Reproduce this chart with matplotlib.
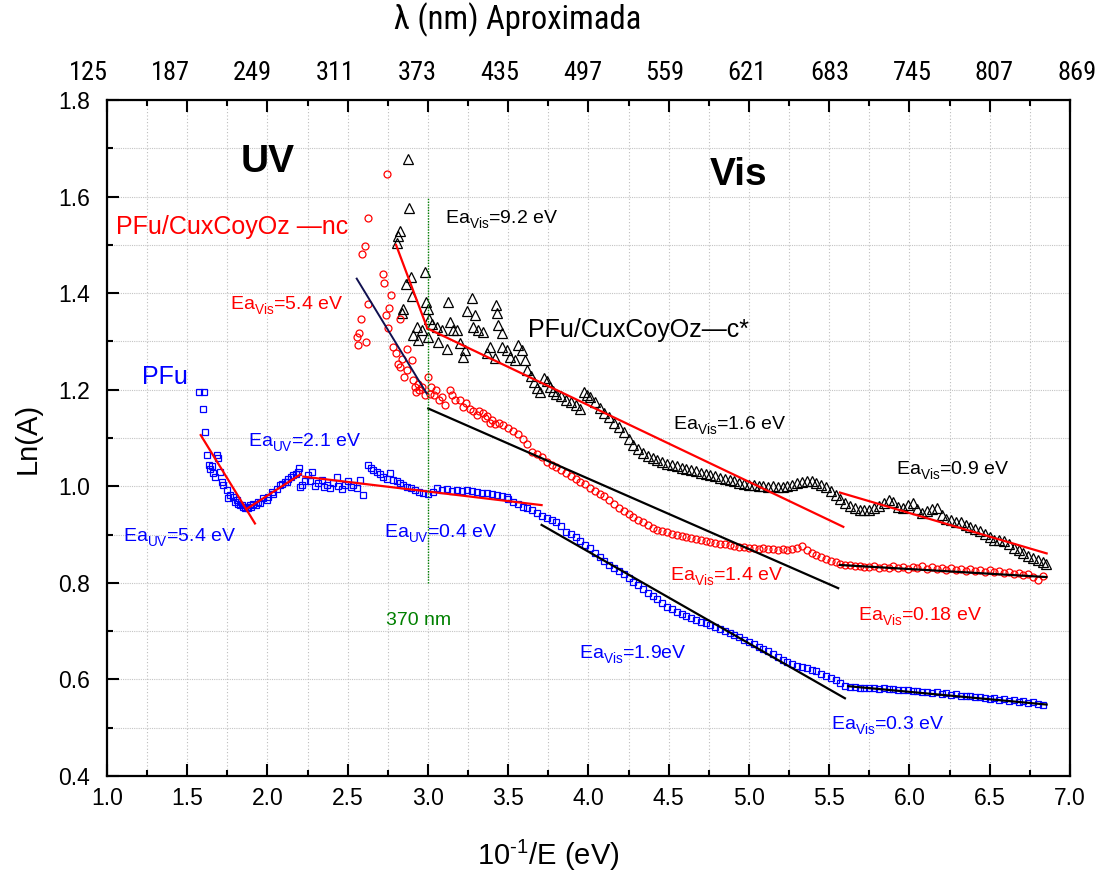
import matplotlib
matplotlib.use("Agg")
import matplotlib.pyplot as plt
from matplotlib import font_manager as fm
from matplotlib.ticker import MultipleLocator

plt.rcParams['font.family'] = ['Liberation Sans', 'DejaVu Sans']
plt.rcParams['mathtext.fontset'] = 'custom'
plt.rcParams['mathtext.rm'] = 'Liberation Sans'
plt.rcParams['mathtext.it'] = 'Liberation Sans:italic'
plt.rcParams['mathtext.bf'] = 'Liberation Sans:bold'
plt.rcParams['mathtext.default'] = 'regular'

# deeper subscripts for the Ea labels
try:
    from matplotlib import _mathtext
    _mathtext.FontConstantsBase.sub1 = 0.55
    _mathtext.FontConstantsBase.sub2 = 0.7
except Exception:
    pass

# a narrow sans for the wavelength axis, if one is installed
narrow_family = 'Liberation Sans'
narrow_stretch = 'normal'
for f in fm.fontManager.ttflist:
    if 'Narrow' in f.name or 'Condensed' in f.name:
        narrow_family, narrow_stretch = f.name, f.stretch
        if 'Liberation' in f.name:
            break

# ---------------- PFu (blue squares) ----------------
pfu_x = [1.575, 1.604, 1.596, 1.610, 1.621, 1.637, 1.652, 1.683, 1.694, 1.642,
         1.662, 1.673, 1.704, 1.714, 1.725, 1.745, 1.766, 1.756, 1.787, 1.798,
         1.808, 1.818, 1.829, 1.84, 1.85, 1.86, 1.87, 1.88, 1.891, 1.90,
         1.912, 1.93, 1.943, 1.955, 1.974, 1.995, 2.005, 2.026, 2.036, 2.057,
         2.078, 2.09, 2.109, 2.12, 2.13, 2.145, 2.161, 2.175, 2.192, 2.198,
         2.2025, 2.213, 2.234, 2.255, 2.275, 2.265, 2.296, 2.317, 2.338, 2.352,
         2.369, 2.39, 2.41, 2.431, 2.441, 2.462, 2.483, 2.504, 2.518, 2.535,
         2.556, 2.576, 2.597, 2.628, 2.643, 2.66, 2.68, 2.701, 2.722, 2.743,
         2.764, 2.78, 2.805, 2.826, 2.847, 2.867, 2.892, 2.919, 2.946, 2.971,
         3.002, 3.029, 3.054, 3.085, 3.116, 3.147, 3.179, 3.21, 3.241, 3.272,
         3.303, 3.334, 3.366, 3.397, 3.428, 3.459, 3.49,
         3.50, 3.53, 3.56, 3.59, 3.62, 3.65, 3.68, 3.71, 3.74, 3.77,
         3.80, 3.83, 3.86, 3.89, 3.92, 3.95, 3.98, 4.01, 4.04, 4.07,
         4.10, 4.13, 4.16, 4.19, 4.22, 4.25, 4.28, 4.31, 4.34, 4.37,
         4.40, 4.43, 4.46, 4.49, 4.52, 4.55, 4.58, 4.61, 4.64, 4.67,
         4.70, 4.73, 4.76, 4.79, 4.82, 4.85, 4.88, 4.91, 4.94, 4.97,
         5.00, 5.03, 5.06, 5.09, 5.12, 5.15, 5.18, 5.21, 5.24, 5.27,
         5.30, 5.33, 5.36, 5.39, 5.42, 5.45, 5.48, 5.51, 5.54, 5.57,
         5.60, 5.63, 5.66, 5.69, 5.72, 5.75, 5.78, 5.81, 5.84, 5.87,
         5.90, 5.93, 5.96, 5.99, 6.02, 6.05, 6.08, 6.11, 6.14, 6.17,
         6.20, 6.23, 6.26, 6.29, 6.32, 6.35, 6.38, 6.41, 6.44, 6.47,
         6.50, 6.53, 6.56, 6.59, 6.62, 6.65, 6.68, 6.71, 6.74, 6.77,
         6.80, 6.83]
pfu_y = [1.195, 1.195, 1.161, 1.112, 1.065, 1.044, 1.042, 1.065, 1.058, 1.035,
         1.028, 1.019, 1.030, 1.009, 1.003, 0.992, 0.982, 0.975, 0.978, 0.968,
         0.972, 0.964, 0.961, 0.962, 0.958, 0.955, 0.958, 0.954, 0.961, 0.958,
         0.964, 0.962, 0.968, 0.966, 0.975, 0.972, 0.978, 0.989, 0.985, 0.995,
         1.003, 1.004, 1.009, 1.009, 1.016, 1.020, 1.023, 1.026, 1.030, 1.038,
         0.998, 1.003, 1.010, 1.024, 1.029, 1.010, 1.000, 1.006, 1.013, 0.998,
         1.003, 0.996, 1.006, 1.019, 1.000, 0.994, 1.003, 1.010, 0.998, 1.003,
         0.996, 1.013, 0.982, 1.044, 1.037, 1.034, 1.030, 1.025, 1.020, 1.016,
         1.027, 1.013, 1.010, 1.006, 1.003, 0.998, 0.996, 0.992, 0.989, 0.987,
         0.983, 0.989, 0.996, 0.992, 0.994, 0.991, 0.992, 0.991, 0.992, 0.990,
         0.989, 0.987, 0.986, 0.985, 0.982, 0.980, 0.977,
         0.973, 0.968, 0.963, 0.958, 0.955, 0.951, 0.944, 0.938, 0.935, 0.931,
         0.926, 0.918, 0.905, 0.902, 0.895, 0.886, 0.879, 0.872, 0.862, 0.854,
         0.846, 0.838, 0.831, 0.825, 0.818, 0.810, 0.801, 0.795, 0.788, 0.780,
         0.773, 0.766, 0.758, 0.751, 0.746, 0.740, 0.736, 0.731, 0.727, 0.723,
         0.719, 0.716, 0.712, 0.708, 0.705, 0.701, 0.697, 0.693, 0.688, 0.682,
         0.677, 0.673, 0.668, 0.664, 0.659, 0.653, 0.646, 0.640, 0.636, 0.632,
         0.628, 0.625, 0.623, 0.620, 0.617, 0.612, 0.608, 0.603, 0.598, 0.592,
         0.587, 0.585, 0.584, 0.583, 0.583, 0.582, 0.583, 0.581, 0.582, 0.580,
         0.581, 0.579, 0.578, 0.579, 0.576, 0.577, 0.574, 0.575, 0.572, 0.573,
         0.570, 0.571, 0.568, 0.569, 0.566, 0.565, 0.566, 0.563, 0.564, 0.561,
         0.560, 0.562, 0.558, 0.559, 0.556, 0.557, 0.554, 0.555, 0.552, 0.553,
         0.550, 0.548]

# ---------------- PFu/CuxCoyOz-nc (red circles) ----------------
nc_x = [2.743, 2.628, 2.607, 2.591, 2.717, 2.727, 2.769, 2.624, 2.755, 2.736,
        2.583, 2.826, 2.751, 2.572, 2.558, 2.614, 2.566, 2.784, 2.869, 2.798,
        2.838, 2.898, 2.811, 2.826, 2.852, 2.905, 2.919, 2.946, 2.981, 2.925,
        2.94, 2.96, 2.87, 3.002, 3.02, 3.04, 3.07, 3.106, 3.012, 3.05,
        3.09, 3.137, 3.15, 3.17, 3.20, 3.22, 3.24, 3.26, 3.28, 3.303,
        3.32, 3.345, 3.355, 3.37, 3.386, 3.40, 3.42,
        3.44, 3.47, 3.50, 3.53, 3.56, 3.59, 3.62, 3.65, 3.68, 3.71,
        3.74, 3.77, 3.80, 3.83, 3.86, 3.89, 3.92, 3.95, 3.98, 4.01,
        4.04, 4.07, 4.10, 4.13, 4.16, 4.19, 4.22, 4.25, 4.28, 4.31,
        4.34, 4.37, 4.40, 4.43, 4.46, 4.49, 4.52, 4.55, 4.58, 4.61,
        4.64, 4.67, 4.70, 4.73, 4.76, 4.79, 4.82, 4.85, 4.88, 4.91,
        4.94, 4.97, 5.00, 5.03, 5.06, 5.09, 5.12, 5.15, 5.18, 5.21,
        5.24, 5.27, 5.30, 5.33, 5.36, 5.39, 5.42, 5.45, 5.48, 5.51,
        5.54, 5.57, 5.60, 5.63, 5.66, 5.69, 5.72, 5.75, 5.78, 5.81,
        5.84, 5.87, 5.90, 5.93, 5.96, 5.99, 6.02, 6.05, 6.08, 6.11,
        6.14, 6.17, 6.20, 6.23, 6.26, 6.29, 6.32, 6.35, 6.38, 6.41,
        6.44, 6.47, 6.50, 6.53, 6.56, 6.59, 6.62, 6.65, 6.68, 6.71,
        6.74, 6.77, 6.80, 6.83]
nc_y = [1.646, 1.556, 1.497, 1.481, 1.439, 1.420, 1.396, 1.378, 1.370, 1.355,
        1.346, 1.346, 1.328, 1.317, 1.309, 1.299, 1.292, 1.289, 1.285, 1.275,
        1.263, 1.261, 1.254, 1.246, 1.227, 1.220, 1.206, 1.199, 1.189, 1.196,
        1.212, 1.205, 1.240, 1.227, 1.206, 1.189, 1.179, 1.168, 1.192, 1.200,
        1.185, 1.199, 1.190, 1.178, 1.179, 1.165, 1.172, 1.160, 1.155, 1.148,
        1.156, 1.151, 1.141, 1.145, 1.131, 1.138, 1.128,
        1.132, 1.126, 1.121, 1.115, 1.108, 1.097, 1.088, 1.072, 1.066, 1.060,
        1.051, 1.045, 1.040, 1.033, 1.027, 1.021, 1.015, 1.009, 1.004, 0.996,
        0.990, 0.985, 0.979, 0.972, 0.964, 0.956, 0.948, 0.942, 0.937, 0.931,
        0.925, 0.919, 0.914, 0.910, 0.907, 0.905, 0.902, 0.899, 0.897, 0.895,
        0.892, 0.890, 0.888, 0.886, 0.884, 0.883, 0.881, 0.880, 0.878, 0.877,
        0.875, 0.874, 0.873, 0.872, 0.871, 0.872, 0.870, 0.871, 0.869, 0.870,
        0.869, 0.870, 0.873, 0.876, 0.868, 0.862, 0.857, 0.853, 0.850, 0.846,
        0.843, 0.840, 0.838, 0.836, 0.834, 0.835, 0.833, 0.832, 0.834, 0.831,
        0.833, 0.830, 0.834, 0.831, 0.833, 0.829, 0.832, 0.830, 0.834, 0.829,
        0.832, 0.828, 0.831, 0.827, 0.830, 0.826, 0.829, 0.825, 0.828, 0.824,
        0.827, 0.823, 0.826, 0.822, 0.825, 0.820, 0.823, 0.818, 0.821, 0.816,
        0.819, 0.812, 0.806, 0.814]

# ---------------- PFu/CuxCoyOz-c* (black triangles) ----------------
c_x = [2.877, 2.884, 2.826, 2.815, 2.805, 2.981, 2.892, 2.861, 2.898, 2.988,
       2.846, 2.836, 3.002, 3.006, 2.929, 2.96, 2.908, 2.94, 3.002, 3.023,
       3.054, 3.064, 3.085, 3.116, 3.127, 3.137, 3.158, 3.179, 3.20, 3.22,
       3.23, 3.272, 3.241, 3.293, 3.282, 3.313, 3.345, 3.421, 3.428, 3.438,
       3.459, 3.386, 3.365, 3.417, 3.459, 3.49, 3.511, 3.542, 3.563, 3.584,
       3.604,
       3.62, 3.64, 3.66, 3.68, 3.70, 3.72, 3.74, 3.76, 3.78, 3.80,
       3.83, 3.86, 3.89, 3.92, 3.95, 3.97, 3.99, 4.01, 4.04, 4.07,
       4.10, 4.13, 4.16, 4.19, 4.22, 4.25, 4.28, 4.31, 4.34, 4.37,
       4.40, 4.43, 4.46, 4.49, 4.52, 4.55, 4.58, 4.61, 4.64, 4.67,
       4.70, 4.73, 4.76, 4.79, 4.82, 4.85, 4.88, 4.91, 4.94, 4.97,
       5.00, 5.03, 5.06, 5.09, 5.12, 5.15, 5.18, 5.21, 5.24, 5.27,
       5.30, 5.33, 5.36, 5.39, 5.42, 5.45, 5.48, 5.51, 5.54, 5.57,
       5.60, 5.63, 5.66, 5.69, 5.72, 5.75, 5.78, 5.81, 5.84, 5.87,
       5.90, 5.93, 5.96, 5.99, 6.02, 6.05, 6.08, 6.11, 6.14, 6.17,
       6.20, 6.23, 6.26, 6.29, 6.32, 6.35, 6.38, 6.41, 6.44, 6.47,
       6.50, 6.53, 6.56, 6.59, 6.62, 6.65, 6.68, 6.71, 6.74, 6.77,
       6.80, 6.83, 6.85]
c_y = [1.677, 1.576, 1.529, 1.518, 1.503, 1.444, 1.434, 1.419, 1.393, 1.382,
       1.368, 1.358, 1.367, 1.347, 1.330, 1.324, 1.313, 1.303, 1.310, 1.337,
       1.330, 1.299, 1.324, 1.285, 1.382, 1.340, 1.324, 1.324, 1.296, 1.268,
       1.282, 1.389, 1.362, 1.355, 1.330, 1.324, 1.320, 1.375, 1.359, 1.334,
       1.318, 1.289, 1.275, 1.265, 1.289, 1.282, 1.268, 1.261, 1.292, 1.282,
       1.261,
       1.240, 1.228, 1.215, 1.203, 1.196, 1.225, 1.218, 1.205, 1.198, 1.192,
       1.186, 1.178, 1.174, 1.168, 1.161, 1.196, 1.190, 1.185, 1.175, 1.163,
       1.152, 1.144, 1.132, 1.122, 1.112, 1.098, 1.085, 1.077, 1.069, 1.063,
       1.058, 1.054, 1.050, 1.046, 1.044, 1.041, 1.038, 1.036, 1.033, 1.031,
       1.028, 1.026, 1.023, 1.021, 1.018, 1.016, 1.013, 1.010, 1.007, 1.005,
       1.003, 1.002, 1.000, 1.001, 0.999, 1.000, 0.998, 0.999, 1.000, 1.003,
       1.006, 1.009, 1.011, 1.010, 1.006, 1.002, 0.998, 0.990, 0.982, 0.974,
       0.966, 0.960, 0.955, 0.951, 0.950, 0.951, 0.955, 0.960, 0.966, 0.972,
       0.968, 0.958, 0.956, 0.962, 0.966, 0.952, 0.945, 0.948, 0.953, 0.955,
       0.940, 0.933, 0.930, 0.927, 0.925, 0.920, 0.915, 0.912, 0.908, 0.902,
       0.895, 0.889, 0.888, 0.886, 0.880, 0.873, 0.868, 0.862, 0.856, 0.852,
       0.848, 0.844, 0.840]

# ---------------- linear fits (start/end of each segment) ----------------
fit_red_x = [(1.584, 1.922), (1.870, 2.207), (2.223, 3.708),
             (2.801, 2.996), (2.996, 5.588), (5.567, 6.855)]
fit_red_y = [(1.106, 0.923), (0.953, 1.025), (1.020, 0.961),
             (1.500, 1.327), (1.327, 0.916), (0.987, 0.861)]
fit_black_x = [(3.002, 5.556), (5.567, 6.854), (3.708, 5.598), (5.619, 6.855)]
fit_black_y = [(1.161, 0.789), (0.837, 0.812), (0.920, 0.561), (0.586, 0.548)]
fit_navy_x = (2.556, 2.992)
fit_navy_y = (1.430, 1.192)

# 370 nm marker
lambda_line_x = 3.0
lambda_line_y = (0.80, 1.60)

x_ticks = [1.0, 1.5, 2.0, 2.5, 3.0, 3.5, 4.0, 4.5, 5.0, 5.5, 6.0, 6.5, 7.0]
y_ticks = [0.4, 0.6, 0.8, 1.0, 1.2, 1.4, 1.6, 1.8]
top_labels = ['125', '187', '249', '311', '373', '435', '497', '559',
              '621', '683', '745', '807', '869']

fig = plt.figure(figsize=(11.03, 8.73), dpi=100)
ax = fig.add_axes([0.097, 0.1111, 0.873, 0.7744])

ax.set_xlim(1.0, 7.0)
ax.set_ylim(0.4, 1.8)
ax.set_xticks(x_ticks)
ax.set_yticks(y_ticks)
ax.set_xticklabels([f'{v:.1f}' for v in x_ticks])
ax.set_yticklabels([f'{v:.1f}' for v in y_ticks])
ax.xaxis.set_minor_locator(MultipleLocator(0.25))
ax.yaxis.set_minor_locator(MultipleLocator(0.1))

ax.grid(True, which='both', axis='x', color='#bdbdbd', linestyle=(0, (1, 2)), linewidth=0.8)
ax.grid(True, which='both', axis='y', color='#c4c4c4', linestyle=(0, (1, 1)), linewidth=0.8)
ax.set_axisbelow(True)

ax.tick_params(which='both', direction='in', top=True, right=False,
               labeltop=False, width=1.5, labelsize=16.5)
ax.tick_params(axis='x', pad=8)
ax.tick_params(axis='y', pad=12)
ax.tick_params(which='major', length=8.5)
ax.tick_params(which='minor', length=4.5)
for sp in ax.spines.values():
    sp.set_linewidth(1.6)

# data
ax.plot(c_x, c_y, linestyle='none', marker='^', ms=6.5, mfc='none', mec='black', mew=0.9)
ax.plot(nc_x, nc_y, linestyle='none', marker='o', ms=5, mfc='none', mec='red', mew=0.9)
ax.plot(pfu_x, pfu_y, linestyle='none', marker='s', ms=4.3, mfc='none', mec='blue', mew=0.9)

# fits
for xs, ys in zip(fit_red_x, fit_red_y):
    ax.plot(xs, ys, color='red', lw=1.6)
for xs, ys in zip(fit_black_x, fit_black_y):
    ax.plot(xs, ys, color='black', lw=1.6)
ax.plot(fit_navy_x, fit_navy_y, color='#101050', lw=1.4)

ax.plot([lambda_line_x, lambda_line_x], lambda_line_y, color='#008000',
        lw=1.0, linestyle=(0, (1, 1)))

# axis titles
ax.set_ylabel('Ln(A)', fontsize=21)
ax.yaxis.set_label_coords(-0.068, 0.5)
ax.text(0.458, -0.1317, r'10$^{\text{-}1}$/E (eV)', transform=ax.transAxes,
        ha='center', va='baseline', fontsize=21)
ax.text(0.426, 1.119, 'λ (nm) Aproximada', transform=ax.transAxes,
        ha='center', va='center', fontsize=23.5,
        family=[narrow_family, 'Liberation Sans'], stretch=narrow_stretch)
for i, lab in enumerate(top_labels):
    ax.text(-0.0197 + i * 0.08556, 1.040, lab, transform=ax.transAxes,
            ha='center', va='center', fontsize=19,
            family=[narrow_family, 'Liberation Sans'], stretch=narrow_stretch)

# region / series labels
ax.text(2.003, 1.671, 'UV', fontsize=28, fontweight='bold', ha='center', va='center')
ax.text(4.938, 1.645, 'Vis', fontsize=28, fontweight='bold', ha='center', va='center')
ax.text(1.056, 1.522, 'PFu/CuxCoyOz —nc', color='red', fontsize=18, va='baseline')
ax.text(3.625, 1.310, 'PFu/CuxCoyOz—c*', color='black', fontsize=18, va='baseline')
ax.text(1.216, 1.212, 'PFu', color='blue', fontsize=18, va='baseline')

fs = 14
ax.text(3.106, 1.545, r'Ea$_{Vis}$=9.2 eV', color='black', fontsize=fs, va='baseline')
ax.text(1.766, 1.366, r'Ea$_{Vis}$=5.4 eV', color='red', fontsize=fs, va='baseline')
ax.text(1.880, 1.083, r'Ea$_{UV}$=2.1 eV', color='blue', fontsize=fs, va='baseline')
ax.text(1.102, 0.885, r'Ea$_{UV}$=5.4 eV', color='blue', fontsize=fs, va='baseline')
ax.text(2.726, 0.894, r'Ea$_{UV}$=0.4 eV', color='blue', fontsize=fs, va='baseline')
ax.text(2.738, 0.713, '370 nm', color='#008000', fontsize=fs, va='baseline')
ax.text(4.524, 1.117, r'Ea$_{Vis}$=1.6 eV', color='black', fontsize=fs, va='baseline')
ax.text(5.916, 1.025, r'Ea$_{Vis}$=0.9 eV', color='black', fontsize=fs, va='baseline')
ax.text(4.511, 0.804, r'Ea$_{Vis}$=1.4 eV', color='red', fontsize=fs, va='baseline')
ax.text(5.677, 0.723, r'Ea$_{Vis}$=0.18 eV', color='red', fontsize=fs, va='baseline')
ax.text(3.941, 0.644, r'Ea$_{Vis}$=1.9eV', color='blue', fontsize=fs, va='baseline')
ax.text(5.509, 0.497, r'Ea$_{Vis}$=0.3 eV', color='blue', fontsize=fs, va='baseline')

fig.savefig('out.png', dpi=100)
